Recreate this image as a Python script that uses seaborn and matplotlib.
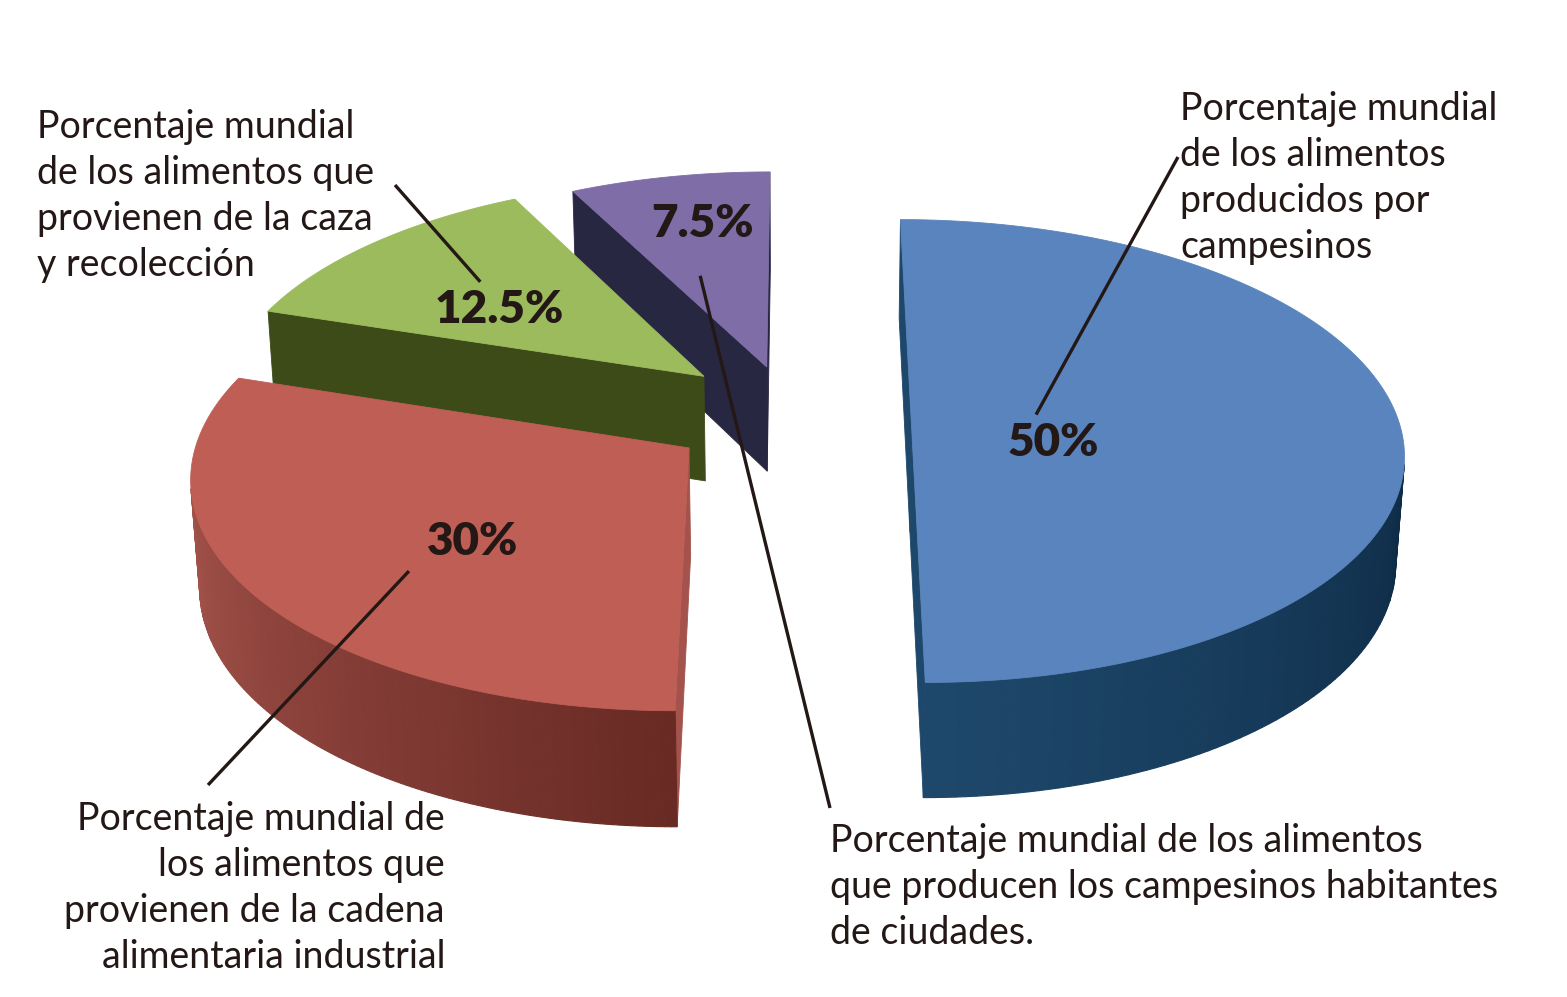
import numpy as np
import matplotlib
matplotlib.use("Agg")
import matplotlib.pyplot as plt
from matplotlib.patches import Polygon
import seaborn as sns

# ==========================================
# DATOS
# ==========================================
categorias = ["Campesinos", "Cadena alimentaria industrial",
              "Caza y recolección", "Campesinos habitantes de ciudades"]
porcentajes = [50, 30, 12.5, 7.5]
etiquetas_pct = ["50%", "30%", "12.5%", "7.5%"]
descripciones = [
    "Porcentaje mundial\nde los alimentos\nproducidos por\ncampesinos",
    "Porcentaje mundial de\nlos alimentos que\nprovienen de la cadena\nalimentaria industrial",
    "Porcentaje mundial\nde los alimentos que\nprovienen de la caza\ny recolección",
    "Porcentaje mundial de los alimentos\nque producen los campesinos habitantes\nde ciudades.",
]

# ==========================================
# ESTILO / GEOMETRIA
# ==========================================
color_sup = ["#5A84BD", "#BF5E55", "#9BBB5D", "#7F6DA8"]
color_lado = [("#1E486B", "#0E2C47"), ("#A3534B", "#692A24"),
              ("#3C4B18", "#3C4B18"), ("#272741", "#272741")]
explode = [0.23, 0.235, 0.32, 0.30]         # separación de cada porción
explode_dir = [7, 197, 129, None]           # dirección (None = ángulo medio)
r_etiqueta = [0.295, 0.56, 0.55, 0.73]
ang_etiqueta = [-14.5, 223, 145, 102]

# posicion de los textos (x, y, alineacion) en pixeles
pos_texto = [(1180, 91, "left"), (445, 801, "right"),
             (37, 109, "left"), (830, 823, "left")]
# extremo de la linea guia junto al texto, y desplazamiento junto al %
guia_ext = [(1178, 157), (208, 785), (395, 185), (830, 808)]
guia_off = [(-17, -28), (-64, 30), (-19, -28), (-2, 52)]

CX, CY = 800, 432
ESC = 490
ELEV = np.radians(28)
GROSOR = 0.25
DIST = 8.0
OJO = np.array([0.0, -DIST * np.cos(ELEV), DIST * np.sin(ELEV)])
TINTA = "#231815"


def proyectar(X, Y, Z):
    prof = Y * np.cos(ELEV) - Z * np.sin(ELEV)
    f = DIST / (DIST + prof)
    px = CX + ESC * X * f
    py = CY - ESC * (Y * np.sin(ELEV) + Z * np.cos(ELEV)) * f
    return np.column_stack([px, py]) if np.ndim(px) else np.array([px, py])


def visible(punto, normal):
    return np.dot(punto - OJO, normal) < 0


sns.set_theme(style="white")
plt.rcParams["font.family"] = ["Lato", "DejaVu Sans"]

fig = plt.figure(figsize=(15.67, 9.97), dpi=100)
ax = fig.add_axes([0, 0, 1, 1])
ax.set_xlim(0, 1567)
ax.set_ylim(997, 0)
ax.axis("off")

fr = np.array(porcentajes) / sum(porcentajes)
ang_fin = 90 - 360 * np.cumsum(fr)
ang_ini = ang_fin + 360 * fr
ang_mid = (ang_ini + ang_fin) / 2

orden = np.argsort(-np.sin(np.radians(ang_mid)))
pos_pct = {}

for i in orden:
    t1, t2, tm = np.radians([ang_ini[i], ang_fin[i], ang_mid[i]])
    td = tm if explode_dir[i] is None else np.radians(explode_dir[i])
    ox, oy = explode[i] * np.cos(td), explode[i] * np.sin(td)
    ts = np.linspace(t1, t2, 160)
    rx, ry = ox + np.cos(ts), oy + np.sin(ts)

    # caras de corte (radiales)
    for t, n in [(t1, np.array([-np.sin(t1), np.cos(t1), 0])),
                 (t2, np.array([np.sin(t2), -np.cos(t2), 0]))]:
        ex, ey = ox + np.cos(t), oy + np.sin(t)
        centro = np.array([(ox + ex) / 2, (oy + ey) / 2, -GROSOR / 2])
        if visible(centro, n):
            pts = proyectar(np.array([ox, ex, ex, ox]), np.array([oy, ey, ey, oy]),
                            np.array([0, 0, -GROSOR, -GROSOR]))
            ax.add_patch(Polygon(pts, closed=True, fc=color_lado[i][0],
                                 ec=color_lado[i][0], lw=0.6))

    # pared exterior con degradado (claro a la izquierda, oscuro a la derecha)
    segs = []
    for k in range(len(ts) - 1):
        tc = (ts[k] + ts[k + 1]) / 2
        p = np.array([ox + np.cos(tc), oy + np.sin(tc), -GROSOR / 2])
        if visible(p, np.array([np.cos(tc), np.sin(tc), 0])):
            segs.append(k)
    if segs:
        segs.sort(key=lambda k: rx[k])
        pal = sns.blend_palette(list(color_lado[i]), n_colors=len(segs))
        for c, k in zip(pal, segs):
            xs = np.array([rx[k], rx[k + 1], rx[k + 1], rx[k]])
            ys = np.array([ry[k], ry[k + 1], ry[k + 1], ry[k]])
            pts = proyectar(xs, ys, np.array([0, 0, -GROSOR, -GROSOR]))
            ax.add_patch(Polygon(pts, closed=True, fc=c, ec=c, lw=0.8))

    # cara superior
    xs = np.concatenate([[ox], rx])
    ys = np.concatenate([[oy], ry])
    pts = proyectar(xs, ys, np.zeros_like(xs))
    ax.add_patch(Polygon(pts, closed=True, fc=color_sup[i], ec=color_sup[i], lw=0.6))

    ta = np.radians(ang_etiqueta[i])
    lx = ox + r_etiqueta[i] * np.cos(ta)
    ly = oy + r_etiqueta[i] * np.sin(ta)
    pos_pct[i] = proyectar(lx, ly, 0.0)

# porcentajes, textos y lineas guia
for i in range(len(porcentajes)):
    px, py = pos_pct[i]
    ax.text(px, py, etiquetas_pct[i], ha="center", va="center",
            fontsize=33, fontweight="heavy", color=TINTA, zorder=5)
    ax.plot([guia_ext[i][0], px + guia_off[i][0]],
            [guia_ext[i][1], py + guia_off[i][1]],
            color=TINTA, lw=2.4, solid_capstyle="butt", zorder=6)
    x, y, ha = pos_texto[i]
    ax.text(x, y, descripciones[i], ha=ha, va="top", fontsize=27,
            linespacing=1.35, color=TINTA, multialignment=ha, zorder=7)

fig.savefig("out.png", dpi=100, facecolor="white")
